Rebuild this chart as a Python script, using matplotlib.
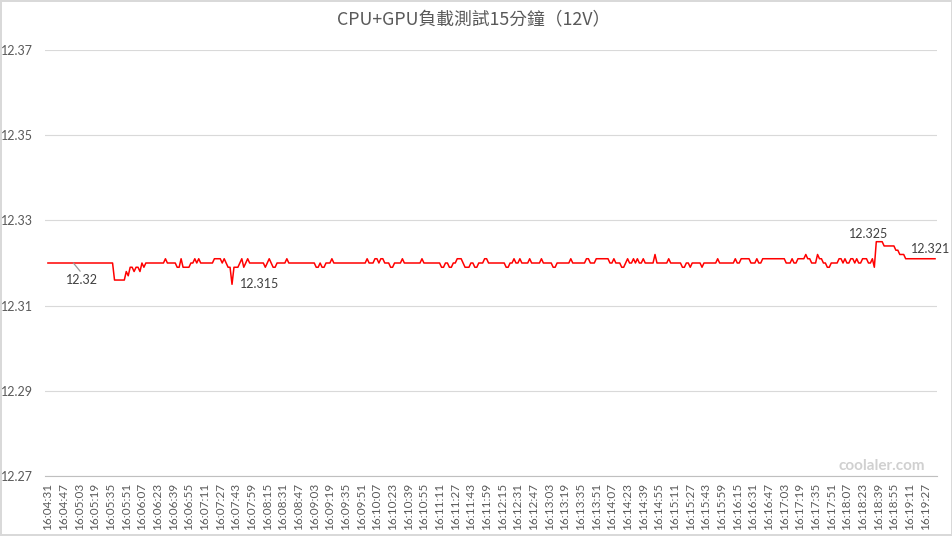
import numpy as np
import pandas as pd
import matplotlib
matplotlib.use("Agg")
import matplotlib.pyplot as plt

# 12V rail readings, one sample every 2 s starting 16:04:31
start_time = "2020-01-01 16:04:31"
step_s = 2
n_samples = 454
tick_every = 8  # one label every 16 s

# reading changes: sample index where the value changes -> new value (V)
chg_idx = [0, 34, 40, 41, 42, 44, 45, 47, 48, 49, 50, 60, 61, 66, 68, 69, 73, 75, 76, 77,
           78, 85, 89, 90, 91, 92, 94, 95, 98, 99, 100, 101, 102, 103, 111, 112, 113, 114, 115, 117,
           122, 123, 137, 139, 140, 142, 145, 146, 163, 164, 167, 169, 170, 172, 175, 177, 181, 182, 191, 192,
           201, 203, 205, 207, 209, 212, 213, 216, 218, 220, 223, 225, 234, 236, 238, 239, 241, 242, 246, 247,
           252, 253, 258, 260, 267, 268, 275, 277, 280, 287, 289, 290, 293, 295, 296, 297, 299, 300, 301, 302,
           304, 305, 310, 311, 317, 318, 324, 326, 328, 329, 334, 335, 342, 343, 351, 352, 354, 359, 362, 363,
           365, 377, 380, 381, 383, 387, 388, 390, 393, 394, 396, 398, 400, 404, 406, 407, 408, 410, 412, 413,
           414, 416, 419, 421, 422, 423, 427, 433, 435, 438]
chg_val = [12.320, 12.316, 12.318, 12.317, 12.319, 12.318, 12.319, 12.318, 12.320, 12.319, 12.320, 12.321, 12.320, 12.319, 12.321, 12.319, 12.320, 12.321, 12.320, 12.321,
           12.320, 12.321, 12.320, 12.321, 12.320, 12.319, 12.315, 12.319, 12.320, 12.321, 12.319, 12.320, 12.321, 12.320, 12.319, 12.320, 12.321, 12.320, 12.319, 12.320,
           12.321, 12.320, 12.319, 12.320, 12.319, 12.320, 12.321, 12.320, 12.321, 12.320, 12.321, 12.320, 12.321, 12.320, 12.319, 12.320, 12.321, 12.320, 12.321, 12.320,
           12.319, 12.320, 12.319, 12.320, 12.321, 12.320, 12.319, 12.320, 12.319, 12.320, 12.321, 12.320, 12.319, 12.320, 12.321, 12.320, 12.321, 12.320, 12.321, 12.320,
           12.321, 12.320, 12.319, 12.320, 12.321, 12.320, 12.321, 12.320, 12.321, 12.320, 12.321, 12.320, 12.319, 12.320, 12.321, 12.320, 12.321, 12.320, 12.321, 12.320,
           12.321, 12.320, 12.322, 12.320, 12.321, 12.320, 12.319, 12.320, 12.319, 12.320, 12.319, 12.320, 12.321, 12.320, 12.321, 12.320, 12.321, 12.320, 12.321, 12.320,
           12.321, 12.320, 12.321, 12.320, 12.321, 12.322, 12.321, 12.320, 12.322, 12.321, 12.320, 12.319, 12.320, 12.321, 12.320, 12.321, 12.320, 12.321, 12.320, 12.321,
           12.320, 12.321, 12.320, 12.321, 12.319, 12.325, 12.324, 12.323, 12.322, 12.321]

# decode the runs into the full series
volts = np.empty(n_samples)
bounds = chg_idx + [n_samples]
for k, v in enumerate(chg_val):
    volts[bounds[k]:bounds[k + 1]] = v

times = pd.date_range(start_time, periods=n_samples, freq=f"{step_s}s").strftime("%H:%M:%S")
x = np.arange(n_samples)

grey = "#595959"
plt.rcParams["font.family"] = ["Lato", "DejaVu Sans"]

fig = plt.figure(figsize=(9.53, 5.36), dpi=100)
fig.patch.set_edgecolor("#d9d9d9")
fig.patch.set_linewidth(1.5)
ax = fig.add_axes([45 / 953, 60 / 536, 892 / 953, 426 / 536])

ax.plot(x, volts, color="#ff0000", lw=1.1, zorder=3)

ax.set_ylim(12.27, 12.37)
ax.set_yticks([12.27, 12.29, 12.31, 12.33, 12.35, 12.37])
ax.set_yticklabels([f"{t:.2f}" for t in ax.get_yticks()])
ax.set_xlim(-1.5, 454)
ax.set_xticks(x[::tick_every])
ax.set_xticklabels(times[::tick_every], rotation=90)
ax.grid(axis="y", color="#d9d9d9", lw=0.8)
ax.set_axisbelow(True)
for s in ["top", "right", "left"]:
    ax.spines[s].set_visible(False)
ax.spines["bottom"].set_color("#bfbfbf")
ax.tick_params(axis="y", length=0, pad=9, labelsize=9, labelcolor=grey)
ax.tick_params(axis="x", length=0, pad=5, labelsize=8.5, labelcolor=grey)

# data labels (first / min / max / last)
lab = dict(textcoords="offset pixels", fontsize=9, color="#404040", ha="center", va="center")
ax.annotate(f"{volts[13]:.2f}", (13, volts[13]), xytext=(9, -17),
            arrowprops=dict(arrowstyle="-", color="#999999", lw=0.9, shrinkA=0, shrinkB=0,
                            relpos=(0.5, 1.0)), zorder=4, **lab)
i_min = int(np.argmin(volts))
ax.annotate(f"{volts[i_min]:.3f}", (i_min, volts[i_min]), xytext=(28, 0), **lab)
i_max = int(np.argmax(volts))
ax.annotate(f"{volts[i_max]:.3f}", (i_max, volts[i_max]), xytext=(-8, 8), **lab)
ax.annotate(f"{volts[-1]:.3f}", (n_samples - 1, volts[-1]), xytext=(-4, 10), **lab)

fig.text(473.5 / 953, 1 - 20 / 536, "CPU+GPU負載測試15分鐘（12V）", ha="center", va="center",
         fontsize=12.8, color=grey, family=["Noto Sans CJK TC", "DejaVu Sans"])
fig.text(882 / 953, 1 - 466 / 536, "coolaler.com", ha="center", va="center",
         fontsize=11, fontweight="bold", color="#d0d0d0")

fig.savefig("out.png", dpi=100, edgecolor=fig.get_edgecolor())
